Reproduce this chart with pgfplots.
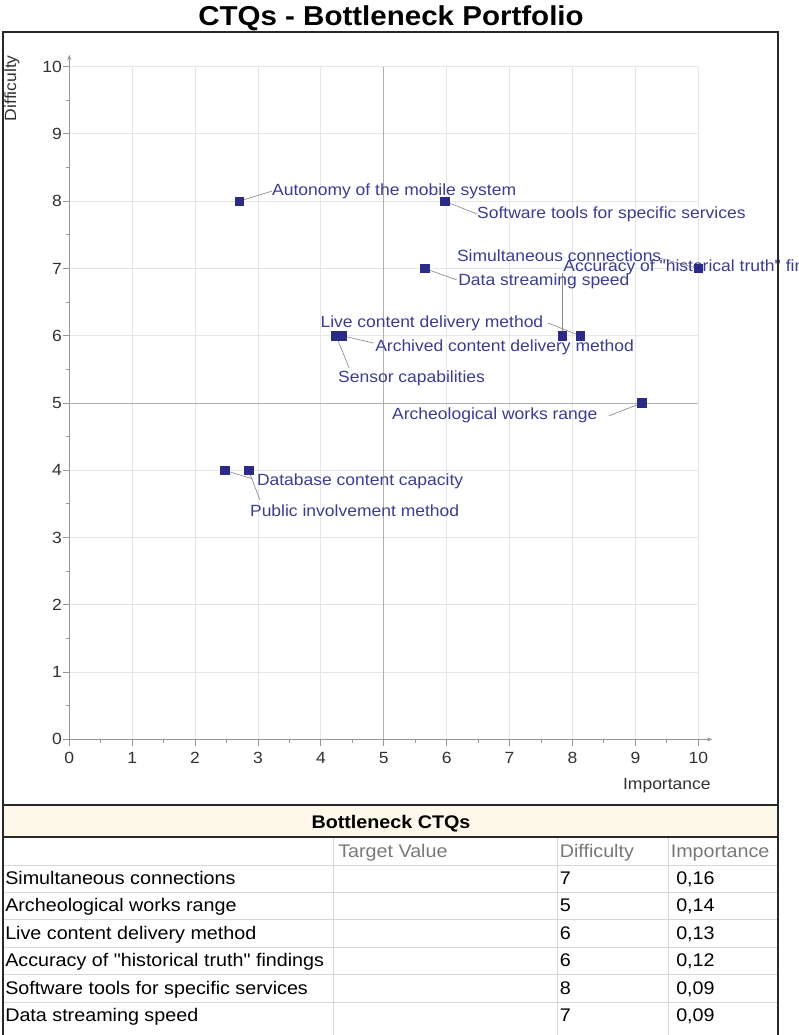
\documentclass[border=0pt]{standalone}
\usepackage{pgfplots}
\pgfplotsset{compat=1.18}
\usepackage{pgfplotstable}
\usepackage{fontspec}
\setmainfont{Liberation Sans}[FakeStretch=1.08, Ligatures=TeXOff]
\usetikzlibrary{arrows.meta}

\definecolor{markblue}{RGB}{43,43,135}
\definecolor{labelblue}{RGB}{60,60,145}
\definecolor{gridgray}{RGB}{230,230,230}
\definecolor{quadgray}{RGB}{175,175,175}
\definecolor{axisgray}{RGB}{150,150,150}
\definecolor{leadgray}{RGB}{140,140,140}
\definecolor{ticktext}{RGB}{50,50,50}
\definecolor{framedark}{RGB}{40,40,40}
\definecolor{headcream}{RGB}{253,248,233}
\definecolor{rulegray}{RGB}{215,215,215}
\definecolor{headgray}{RGB}{120,120,120}

% Importance (x) and difficulty (y) of each CTQ
\pgfplotstableread{
imp    diff
2.70   8
5.97   8
10.00  7
5.65   7
7.84   6
8.12   6
4.34   6
4.24   6
9.10   5
2.47   4
2.85   4
}\ctqpoints

\newcommand\lbl{\fontsize{12.15}{14}\selectfont}
\newcommand\tbl{\fontsize{13.7}{16}\selectfont}

\begin{document}
\begin{tikzpicture}
\path[use as bounding box] (0pt,0pt) rectangle (599.25pt,-776.25pt);

\begin{axis}[
  at={(51.975pt,-554.475pt)}, anchor=south west,
  scale only axis, width=471.75pt, height=504.45pt,
  xmin=0, xmax=10, ymin=0, ymax=10,
  axis lines=left, clip=false,
  axis line style={draw=axisgray, line width=0.75pt},
  x axis line style={-{Stealth[length=4pt,width=3pt]}, shorten >=-10.5pt},
  y axis line style={-{Stealth[length=4pt,width=3pt]}, shorten >=-9pt},
  xtick={0,...,10}, ytick={0,...,10},
  minor x tick num=1, minor y tick num=1,
  tick align=outside,
  major tick length=5pt, minor tick length=2.4pt,
  tick style={draw=axisgray, line width=0.7pt},
  grid=major,
  major grid style={draw=gridgray, line width=0.75pt},
  ticklabel style={font=\lbl, text=ticktext},
  yticklabel style={xshift=3pt},
  xticklabel style={yshift=-1pt},
  /pgf/number format/assume math mode=true,
  xlabel={Importance}, ylabel={Difficulty},
  xlabel style={at={(axis cs:10.20,-0.739)}, anchor=base east, font=\lbl, text=ticktext, inner sep=0pt},
  ylabel style={at={(axis cs:-0.847,10.174)}, anchor=base east, font=\lbl, text=ticktext, inner sep=0pt},
]
% quadrant dividers
\draw[quadgray, line width=0.75pt] (axis cs:5,0) -- (axis cs:5,10);
\draw[quadgray, line width=0.75pt] (axis cs:0,5) -- (axis cs:10,5);

% leader lines from each point to its label
\begin{scope}[leadgray, line width=0.5pt]
\draw (axis cs:2.70,8) -- (axis cs:3.22,8.15);
\draw (axis cs:5.97,8) -- (axis cs:6.48,7.81);
\draw (axis cs:10,7) -- (axis cs:9.36,7.16);
\draw (axis cs:7.84,6) -- (axis cs:7.84,6.94);
\draw (axis cs:5.65,7) -- (axis cs:6.16,6.83);
\draw (axis cs:8.12,6) -- (axis cs:7.61,6.19);
\draw (axis cs:4.34,6) -- (axis cs:4.84,5.89);
\draw (axis cs:4.24,6) -- (axis cs:4.45,5.52);
\draw (axis cs:9.10,5) -- (axis cs:8.58,4.81);
\draw (axis cs:2.47,4) -- (axis cs:2.92,3.87);
\draw (axis cs:2.85,4) -- (axis cs:3.03,3.56);
\end{scope}

\addplot[only marks, mark=square*, mark size=3.2pt, draw=markblue, fill=markblue]
  table[x=imp, y=diff]{\ctqpoints};

\begin{scope}[every node/.style={anchor=base west, inner sep=0pt, font=\lbl, text=labelblue}]
\node at (axis cs:3.22,8.08) {Autonomy of the mobile system};
\node at (axis cs:6.48,7.75) {Software tools for specific services};
\node at (axis cs:6.16,7.10) {Simultaneous connections};
\node at (axis cs:7.85,6.95) {Accuracy of "historical truth" findings};
\node at (axis cs:6.18,6.75) {Data streaming speed};
\node at (axis cs:3.99,6.12) {Live content delivery method};
\node at (axis cs:4.86,5.76) {Archived content delivery method};
\node at (axis cs:4.27,5.30) {Sensor capabilities};
\node at (axis cs:5.13,4.76) {Archeological works range};
\node at (axis cs:2.98,3.77) {Database content capacity};
\node at (axis cs:2.87,3.31) {Public involvement method};
\end{scope}
\end{axis}

\begin{scope}[x=0.75pt, y=-0.75pt]
% title
\node[anchor=base, inner sep=0pt, font=\bfseries\fontsize{20.5}{24}\selectfont] at (391,26) {CTQs - Bottleneck Portfolio};

% table header band and rules
\fill[headcream] (3,805) rectangle (778,837);
\foreach \y in {865,892,919.5,947,974,1002}
  \draw[rulegray, line width=0.75pt] (3,\y) -- (778,\y);
\foreach \x in {333,557.5,668}
  \draw[rulegray, line width=0.75pt] (\x,837) -- (\x,1035);

% frame
\draw[framedark, line width=1.65pt] (3,1035) -- (3,32) -- (778,32) -- (778,1035);
\draw[framedark, line width=1.65pt] (3,805) -- (778,805);
\draw[framedark, line width=1.5pt] (3,837) -- (778,837);

\node[anchor=base, inner sep=0pt, font=\bfseries\tbl] at (391,828) {Bottleneck CTQs};

\begin{scope}[every node/.style={anchor=base west, inner sep=0pt, font=\tbl}]
\node[text=headgray] at (338,857) {Target Value};
\node[text=headgray] at (559.5,857) {Difficulty};
\node[text=headgray] at (670.5,857) {Importance};

\node at (5,884)   {Simultaneous connections};
\node at (5,911.7) {Archeological works range};
\node at (5,939.3) {Live content delivery method};
\node at (5,966.7) {Accuracy of "historical truth" findings};
\node at (5,994.3) {Software tools for specific services};
\node at (5,1021.7){Data streaming speed};

\node at (559.5,884)   {7};
\node at (559.5,911.7) {5};
\node at (559.5,939.3) {6};
\node at (559.5,966.7) {6};
\node at (559.5,994.3) {8};
\node at (559.5,1021.7){7};

\node at (676,884)   {0,16};
\node at (676,911.7) {0,14};
\node at (676,939.3) {0,13};
\node at (676,966.7) {0,12};
\node at (676,994.3) {0,09};
\node at (676,1021.7){0,09};
\end{scope}
\end{scope}
\end{tikzpicture}
\end{document}
